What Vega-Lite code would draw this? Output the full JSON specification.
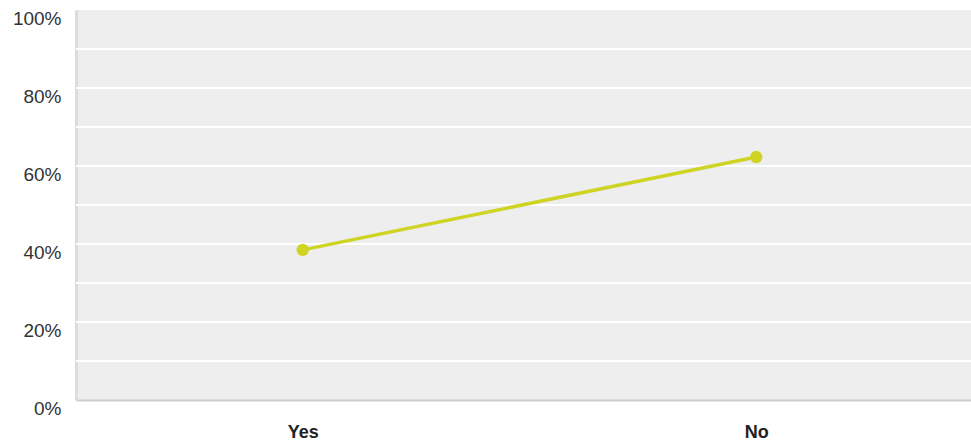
{
  "$schema": "https://vega.github.io/schema/vega-lite/v6.json",
  "autosize": "none",
  "width": 907,
  "height": 390,
  "padding": {"left": 76, "top": 10, "right": 0, "bottom": 45},
  "background": "white",
  "config": {
    "view": {"fill": "#eeeeee", "stroke": null},
    "font": "Liberation Sans"
  },
  "datasets": {
    "points": [
      {"answer": "Yes", "share": 0.385},
      {"answer": "No", "share": 0.623}
    ],
    "grid": [
      {"v": 0.1}, {"v": 0.2}, {"v": 0.3}, {"v": 0.4}, {"v": 0.5},
      {"v": 0.6}, {"v": 0.7}, {"v": 0.8}, {"v": 0.9}
    ]
  },
  "layer": [
    {
      "data": {"name": "grid"},
      "mark": {"type": "rule", "color": "#ffffff", "strokeWidth": 2},
      "encoding": {
        "y": {"field": "v", "type": "quantitative", "scale": {"domain": [0, 1]},
          "axis": {
            "values": [0, 0.2, 0.4, 0.6, 0.8, 1],
            "format": ".0%",
            "grid": false,
            "ticks": false,
            "title": null,
            "labelFontSize": 19,
            "labelColor": "#333333",
            "labelPadding": 15,
            "labelOffset": 8,
            "domainColor": "#dddddd",
            "domainWidth": 3
          }
        }
      }
    },
    {
      "data": {"name": "points"},
      "mark": {"type": "line", "color": "#cfd424", "strokeWidth": 3.5, "point": {"filled": true, "size": 155, "color": "#cfd424", "opacity": 1}},
      "encoding": {
        "x": {"field": "answer", "type": "nominal", "sort": null,
          "scale": {"type": "point", "padding": 0.5},
          "axis": {
            "title": null,
            "labelAngle": 0,
            "labelFontSize": 18,
            "labelFontWeight": "bold",
            "labelColor": "#222222",
            "labelPadding": 23,
            "ticks": false,
            "grid": false,
            "domainColor": "#cccccc",
            "domainWidth": 2
          }
        },
        "y": {"field": "share", "type": "quantitative"}
      }
    }
  ]
}
